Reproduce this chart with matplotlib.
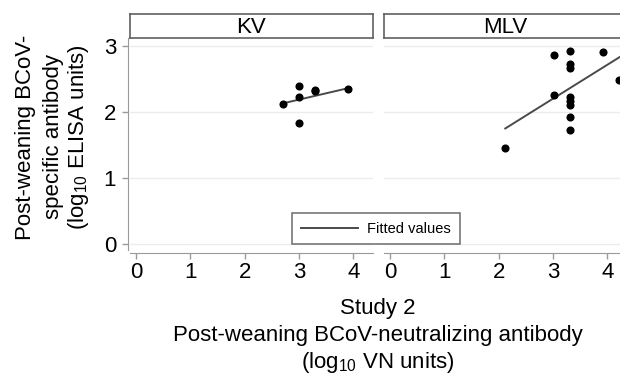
import matplotlib
matplotlib.use('Agg')
import matplotlib.pyplot as plt
from matplotlib.lines import Line2D

plt.rcParams['font.family'] = ['Liberation Sans', 'DejaVu Sans']
plt.rcParams['mathtext.fontset'] = 'custom'
plt.rcParams['mathtext.rm'] = 'Liberation Sans'
plt.rcParams['mathtext.it'] = 'Liberation Sans:italic'

# data (log10 VN units vs log10 ELISA units)
kv_x = [2.70, 2.99, 2.99, 2.99, 3.30, 3.30, 3.90]
kv_y = [2.12, 2.39, 2.23, 1.84, 2.34, 2.31, 2.35]
kv_fit_x = [2.70, 3.90]
kv_fit_y = [2.13, 2.36]

mlv_x = [2.12, 3.01, 3.01, 3.32, 3.32, 3.32, 3.32, 3.32, 3.32, 3.32, 3.32, 3.91, 4.21]
mlv_y = [1.46, 2.86, 2.26, 2.93, 2.72, 2.67, 2.22, 2.16, 2.10, 1.92, 1.73, 2.91, 2.49]
mlv_fit_x = [2.12, 4.30]
mlv_fit_y = [1.75, 2.87]

panels = ['KV', 'MLV']
x_ticks = [0, 1, 2, 3, 4]
y_ticks = [0, 1, 2, 3]

W, H = 620, 375
fig = plt.figure(figsize=(W / 100, H / 100), dpi=100)


def box(l, t, r, b):
    # pixel box -> figure fraction
    return [l / W, 1 - b / H, (r - l) / W, (b - t) / H]


gray = '#9a9a9a'
fs = 16

kv_ax = fig.add_axes(box(130, 38, 372.5, 250))
mlv_ax = fig.add_axes(box(384, 38, 626.5, 250))

series = [(kv_ax, kv_x, kv_y, kv_fit_x, kv_fit_y),
          (mlv_ax, mlv_x, mlv_y, mlv_fit_x, mlv_fit_y)]

for i, (ax, xs, ys, fx, fy) in enumerate(series):
    ax.set_xlim(-0.11, 4.35)
    ax.set_ylim(-0.09, 3.12)
    for g in y_ticks:
        ax.axhline(g, color='#ececec', lw=1, zorder=0)
    ax.plot(fx, fy, color='#4a4a4a', lw=1.4, zorder=2)
    ax.scatter(xs, ys, s=34, color='black', lw=0, zorder=3)
    for s in ['top', 'right']:
        ax.spines[s].set_visible(False)
    ax.spines['bottom'].set_position(('outward', 2))
    ax.spines['bottom'].set_color(gray)
    ax.set_xticks(x_ticks)
    ax.tick_params(axis='x', length=4, width=1, color=gray, pad=2.5, labelsize=fs)
    if i == 0:
        ax.spines['left'].set_position(('outward', 1.7))
        ax.spines['left'].set_color(gray)
        ax.set_yticks(y_ticks)
        ax.tick_params(axis='y', length=4.3, width=1, color=gray, pad=4, labelsize=fs)
    else:
        ax.spines['left'].set_visible(False)
        ax.set_yticks([])

# strip headers
for name, l, r in [(panels[0], 130, 372.5), (panels[1], 383.5, 626.5)]:
    sax = fig.add_axes(box(l, 14, r, 37.7))
    sax.set_xticks([])
    sax.set_yticks([])
    for s in sax.spines.values():
        s.set_color('#606060')
        s.set_linewidth(1.2)
    sax.text(0.5, 0.45, name, ha='center', va='center', fontsize=fs, transform=sax.transAxes)

# y-axis title
y_lines = [('Post-weaning BCoV-', 31), ('specific antibody', 59), ('(log$_{10}$ ELISA units)', 84)]
for txt, xb in y_lines:
    fig.text(xb / W, 1 - 137 / H, txt, rotation=90, rotation_mode='anchor',
             ha='center', va='baseline', fontsize=fs)

# x-axis title
x_lines = [('Study 2', 314), ('Post-weaning BCoV-neutralizing antibody', 341.5),
           ('(log$_{10}$ VN units)', 368)]
for txt, yb in x_lines:
    fig.text(378 / W, 1 - yb / H, txt, ha='center', va='baseline', fontsize=fs)

handle = Line2D([], [], color='#4a4a4a', lw=1.4)
leg = fig.legend([handle], ['Fitted values'], loc='center',
                 bbox_to_anchor=(376 / W, 1 - 228.7 / H), fontsize=10.5,
                 fancybox=False, framealpha=1, edgecolor='#777777',
                 handlelength=3.9, handletextpad=0.62, borderpad=0.6)
leg.get_frame().set_linewidth(1.2)

fig.savefig('out.png', dpi=100)
